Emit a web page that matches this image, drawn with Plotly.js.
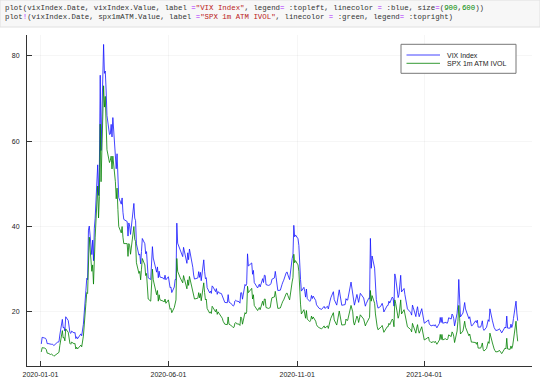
<!DOCTYPE html>
<html>
<head>
<meta charset="utf-8">
<script src="https://cdn.plot.ly/plotly-3.0.1.min.js"></script>
<style>html,body{margin:0;padding:0;background:#fff;}#chart{width:540px;height:382px;}</style>
</head>
<body>
<div id="chart"></div>
<script>
const dates = [
"2020-01-02","2020-01-03","2020-01-06","2020-01-07","2020-01-08","2020-01-09","2020-01-10","2020-01-13","2020-01-14","2020-01-15","2020-01-16","2020-01-17","2020-01-21","2020-01-22","2020-01-23","2020-01-24","2020-01-27","2020-01-28","2020-01-29","2020-01-30","2020-01-31",
"2020-02-03","2020-02-04","2020-02-05","2020-02-06","2020-02-07","2020-02-10","2020-02-11","2020-02-12","2020-02-13","2020-02-14","2020-02-18","2020-02-19","2020-02-20","2020-02-21","2020-02-24","2020-02-25","2020-02-26","2020-02-27","2020-02-28",
"2020-03-02","2020-03-03","2020-03-04","2020-03-05","2020-03-06","2020-03-09","2020-03-10","2020-03-11","2020-03-12","2020-03-13","2020-03-16","2020-03-17","2020-03-18","2020-03-19","2020-03-20","2020-03-23","2020-03-24","2020-03-25","2020-03-26","2020-03-27","2020-03-30","2020-03-31",
"2020-04-01","2020-04-02","2020-04-03","2020-04-06","2020-04-07","2020-04-08","2020-04-09","2020-04-13","2020-04-14","2020-04-15","2020-04-16","2020-04-17","2020-04-20","2020-04-21","2020-04-22","2020-04-23","2020-04-24","2020-04-27","2020-04-28","2020-04-29","2020-04-30",
"2020-05-01","2020-05-04","2020-05-05","2020-05-06","2020-05-07","2020-05-08","2020-05-11","2020-05-12","2020-05-13","2020-05-14","2020-05-15","2020-05-18","2020-05-19","2020-05-20","2020-05-21","2020-05-22","2020-05-26","2020-05-27","2020-05-28","2020-05-29",
"2020-06-01","2020-06-02","2020-06-03","2020-06-04","2020-06-05","2020-06-08","2020-06-09","2020-06-10","2020-06-11","2020-06-12","2020-06-15","2020-06-16","2020-06-17","2020-06-18","2020-06-19","2020-06-22","2020-06-23","2020-06-24","2020-06-25","2020-06-26","2020-06-29","2020-06-30",
"2020-07-01","2020-07-02","2020-07-06","2020-07-07","2020-07-08","2020-07-09","2020-07-10","2020-07-13","2020-07-14","2020-07-15","2020-07-16","2020-07-17","2020-07-20","2020-07-21","2020-07-22","2020-07-23","2020-07-24","2020-07-27","2020-07-28","2020-07-29","2020-07-30","2020-07-31",
"2020-08-03","2020-08-04","2020-08-05","2020-08-06","2020-08-07","2020-08-10","2020-08-11","2020-08-12","2020-08-13","2020-08-14","2020-08-17","2020-08-18","2020-08-19","2020-08-20","2020-08-21","2020-08-24","2020-08-25","2020-08-26","2020-08-27","2020-08-28","2020-08-31",
"2020-09-01","2020-09-02","2020-09-03","2020-09-04","2020-09-08","2020-09-09","2020-09-10","2020-09-11","2020-09-14","2020-09-15","2020-09-16","2020-09-17","2020-09-18","2020-09-21","2020-09-22","2020-09-23","2020-09-24","2020-09-25","2020-09-28","2020-09-29","2020-09-30",
"2020-10-01","2020-10-02","2020-10-05","2020-10-06","2020-10-07","2020-10-08","2020-10-09","2020-10-12","2020-10-13","2020-10-14","2020-10-15","2020-10-16","2020-10-19","2020-10-20","2020-10-21","2020-10-22","2020-10-23","2020-10-26","2020-10-27","2020-10-28","2020-10-29","2020-10-30",
"2020-11-02","2020-11-03","2020-11-04","2020-11-05","2020-11-06","2020-11-09","2020-11-10","2020-11-11","2020-11-12","2020-11-13","2020-11-16","2020-11-17","2020-11-18","2020-11-19","2020-11-20","2020-11-23","2020-11-24","2020-11-25","2020-11-27","2020-11-30",
"2020-12-01","2020-12-02","2020-12-03","2020-12-04","2020-12-07","2020-12-08","2020-12-09","2020-12-10","2020-12-11","2020-12-14","2020-12-15","2020-12-16","2020-12-17","2020-12-18","2020-12-21","2020-12-22","2020-12-23","2020-12-24","2020-12-28","2020-12-29","2020-12-30","2020-12-31",
"2021-01-04","2021-01-05","2021-01-06","2021-01-07","2021-01-08","2021-01-11","2021-01-12","2021-01-13","2021-01-14","2021-01-15","2021-01-19","2021-01-20","2021-01-21","2021-01-22","2021-01-25","2021-01-26","2021-01-27","2021-01-28","2021-01-29",
"2021-02-01","2021-02-02","2021-02-03","2021-02-04","2021-02-05","2021-02-08","2021-02-09","2021-02-10","2021-02-11","2021-02-12","2021-02-16","2021-02-17","2021-02-18","2021-02-19","2021-02-22","2021-02-23","2021-02-24","2021-02-25","2021-02-26",
"2021-03-01","2021-03-02","2021-03-03","2021-03-04","2021-03-05","2021-03-08","2021-03-09","2021-03-10","2021-03-11","2021-03-12","2021-03-15","2021-03-16","2021-03-17","2021-03-18","2021-03-19","2021-03-22","2021-03-23","2021-03-24","2021-03-25","2021-03-26","2021-03-29","2021-03-30","2021-03-31",
"2021-04-01","2021-04-05","2021-04-06","2021-04-07","2021-04-08","2021-04-09","2021-04-12","2021-04-13","2021-04-14","2021-04-15","2021-04-16","2021-04-19","2021-04-20","2021-04-21","2021-04-22","2021-04-23","2021-04-26","2021-04-27","2021-04-28","2021-04-29","2021-04-30",
"2021-05-03","2021-05-04","2021-05-05","2021-05-06","2021-05-07","2021-05-10","2021-05-11","2021-05-12","2021-05-13","2021-05-14","2021-05-17","2021-05-18","2021-05-19","2021-05-20","2021-05-21","2021-05-24","2021-05-25","2021-05-26","2021-05-27","2021-05-28",
"2021-06-01","2021-06-02","2021-06-03","2021-06-04","2021-06-07","2021-06-08","2021-06-09","2021-06-10","2021-06-11","2021-06-14","2021-06-15","2021-06-16","2021-06-17","2021-06-18","2021-06-21","2021-06-22","2021-06-23","2021-06-24","2021-06-25","2021-06-28","2021-06-29","2021-06-30",
"2021-07-01","2021-07-02","2021-07-06","2021-07-07","2021-07-08","2021-07-09","2021-07-12","2021-07-13","2021-07-14","2021-07-15","2021-07-16","2021-07-19","2021-07-20","2021-07-21"
];

const vixValue = [
12.47,14.02,13.85,13.79,13.45,12.54,12.56,12.32,12.39,12.42,12.32,12.10,12.85,12.91,12.98,14.56,18.23,16.28,16.39,15.49,18.84,
17.97,16.05,15.15,14.96,15.47,15.04,15.18,13.74,14.15,13.68,14.83,14.38,15.56,17.08,25.03,27.85,27.56,39.16,40.11,
33.42,36.82,31.99,39.62,41.94,54.46,47.30,53.90,75.47,57.83,82.69,75.91,76.45,72.00,66.04,61.59,61.67,63.95,61.00,65.54,57.08,53.54,
57.06,50.91,46.80,45.24,46.70,43.35,41.67,41.17,37.76,40.84,40.11,38.15,43.83,45.41,41.98,41.38,35.93,33.29,33.57,31.23,34.15,
37.19,35.97,33.61,34.12,31.44,27.98,27.57,33.04,35.28,32.61,31.89,29.30,30.53,27.99,29.53,28.16,27.91,27.62,28.59,27.51,
28.23,26.84,25.66,25.81,24.52,25.81,27.57,27.57,40.79,36.09,34.40,33.67,33.47,32.94,35.12,31.77,31.37,33.84,32.22,34.73,31.78,30.43,
28.62,27.68,27.94,29.43,28.08,29.26,27.29,32.19,29.52,27.76,28.00,25.68,24.46,24.84,24.32,26.08,25.84,24.74,25.44,24.10,24.76,24.46,
24.28,23.76,22.99,22.65,22.21,22.13,24.03,22.28,22.13,22.05,21.35,21.51,22.54,22.72,22.54,22.37,22.03,24.47,24.47,22.96,26.41,
26.12,26.57,33.60,30.75,31.46,28.81,29.71,26.87,25.85,25.59,26.04,26.46,25.83,27.78,26.86,28.58,28.51,26.38,26.19,26.27,26.37,
26.70,27.63,27.96,29.48,28.06,26.36,25.00,25.07,26.07,26.40,26.97,27.41,29.18,29.35,28.65,28.11,27.55,32.46,33.35,40.28,37.59,38.02,
37.13,35.55,29.57,27.58,24.86,25.75,24.80,23.45,25.35,23.10,22.45,22.71,23.84,23.11,23.70,22.66,21.64,21.25,20.84,20.57,
20.77,21.17,21.28,20.79,21.30,20.68,22.27,22.52,23.31,24.72,22.89,22.50,21.93,21.57,25.16,24.23,23.31,21.53,21.70,23.08,22.77,22.75,
26.97,25.34,25.07,22.37,21.56,24.08,23.33,22.21,23.25,24.34,23.24,21.58,21.32,21.91,23.19,23.02,37.21,30.21,33.09,
30.24,25.56,22.91,21.77,20.87,21.24,21.63,21.99,21.25,19.97,21.46,21.50,22.49,22.05,23.45,23.11,21.34,28.89,27.95,
23.35,24.10,26.67,28.57,24.66,25.47,24.03,22.56,21.91,20.69,20.03,19.79,19.23,21.58,20.95,18.88,20.30,21.20,19.81,18.86,20.74,19.61,19.40,
17.33,17.91,18.12,17.16,16.95,16.69,16.91,16.65,16.99,16.57,16.25,17.30,18.68,17.50,18.71,17.33,17.64,17.56,17.28,17.61,18.61,
18.31,19.48,19.15,18.39,16.69,19.66,21.84,27.59,23.13,18.81,19.72,21.34,22.18,20.67,20.15,18.40,18.84,17.36,16.74,16.76,
17.90,17.48,18.04,16.42,16.42,17.07,17.89,16.10,15.65,16.39,17.02,18.15,17.75,20.70,17.89,16.66,16.32,15.97,15.62,15.76,16.02,15.83,
15.48,15.07,16.44,16.20,19.00,16.18,16.17,17.12,16.33,17.01,18.45,22.50,19.73,17.91
];

const spxAtmValue = [
10.6,11.6,11.5,11.4,11.1,10.3,10.3,10.0,10.1,10.0,9.8,9.6,10.3,10.4,10.5,12.1,15.6,13.9,14.0,13.2,16.0,
15.2,13.5,12.6,12.4,12.9,12.5,12.6,11.3,11.7,11.3,12.2,11.8,12.9,14.3,22.0,24.5,24.3,35.5,37.5,
29.5,31.0,26.5,34.0,37.5,49.5,42.0,47.0,64.0,50.5,73.0,68.0,70.5,64.0,58.0,55.0,55.5,56.5,53.5,56.5,50.5,46.5,
49.0,44.0,40.0,38.5,40.0,37.5,36.0,36.0,33.0,36.0,35.5,33.5,38.5,40.0,37.0,36.5,31.5,29.0,29.5,27.5,30.0,
32.5,31.0,28.5,29.0,26.5,23.0,22.5,27.5,30.0,27.5,26.5,24.0,25.0,22.5,24.0,22.8,22.5,22.3,23.0,22.0,
22.8,21.5,20.6,20.8,19.8,21.0,22.5,22.8,32.5,29.5,28.0,27.5,27.3,26.8,28.5,25.8,25.4,27.5,26.2,28.3,25.8,24.8,
23.8,23.0,23.2,24.5,23.3,24.3,22.6,26.8,24.5,22.8,23.0,20.8,19.7,20.0,19.6,21.3,21.0,20.0,20.6,19.4,20.0,19.7,
19.0,18.5,17.8,17.5,17.1,17.0,18.8,17.1,17.0,16.9,16.3,16.4,17.3,17.5,17.2,17.1,16.8,18.8,18.5,17.1,19.8,
19.5,20.0,26.0,24.5,25.5,23.0,24.0,21.5,20.5,20.3,20.7,21.0,20.5,22.5,21.5,23.0,23.0,21.0,20.8,21.0,21.0,
22.3,23.3,23.5,24.8,23.5,22.0,20.8,20.9,21.7,22.0,22.5,22.8,24.3,24.4,23.8,23.3,22.8,27.0,28.0,33.5,31.5,32.0,
31.0,29.5,23.5,21.8,19.5,20.5,19.5,18.5,20.3,18.3,17.7,18.0,19.0,18.3,18.8,17.8,17.0,16.6,16.3,16.0,
16.2,16.6,16.7,16.2,16.7,16.1,17.6,17.8,18.5,19.8,18.1,17.8,17.2,16.9,20.2,19.3,18.5,16.9,17.0,18.3,18.0,18.0,
21.5,20.3,20.0,17.6,16.9,19.0,18.5,17.5,18.4,19.3,18.3,16.9,16.7,17.2,18.5,18.7,25.0,22.5,23.8,
22.0,19.5,17.5,16.6,15.8,16.2,16.5,16.8,16.2,15.2,16.5,16.5,17.3,17.0,18.3,18.0,16.5,22.8,22.0,
18.5,19.2,21.3,22.8,19.5,20.5,19.5,18.2,17.6,16.5,16.0,15.8,15.3,17.3,16.7,15.0,16.2,17.0,15.7,15.0,16.5,15.5,15.3,
13.4,13.9,14.1,13.2,13.0,12.8,13.0,12.8,13.1,12.7,12.4,13.4,14.7,13.5,14.7,13.4,13.7,13.6,13.4,13.7,14.6,
14.2,15.3,15.0,14.3,12.8,15.5,17.8,21.5,18.5,14.8,15.5,17.0,17.8,16.4,16.0,14.4,14.8,13.5,12.9,12.9,
12.8,12.4,12.9,11.5,11.5,12.0,12.7,11.2,10.8,11.4,12.0,13.0,12.6,15.0,12.7,11.6,11.3,10.9,10.6,10.7,11.0,10.8,
10.5,10.2,11.5,11.3,13.8,11.3,11.2,12.0,11.4,12.0,13.4,17.8,15.0,13.1
];

const seriesNames = ["VIX Index", "SPX 1m ATM IVOL"];
const xTickVals = ["2020-01-01", "2020-06-01", "2020-11-01", "2021-04-01"];
const xTickText = ["2020-01-01", "2020-06-01", "2020-11-01", "2021-04-01"];
const yTickVals = [20, 40, 60, 80];

if (dates.length !== vixValue.length || dates.length !== spxAtmValue.length) {
  throw new Error("length mismatch " + dates.length + " " + vixValue.length + " " + spxAtmValue.length);
}

const codeLine1 = 'plot(vixIndex.Date, vixIndex.Value, label <span style="color:#aa22ff">=</span><span style="color:#ba2121">"VIX Index"</span>, legend<span style="color:#aa22ff">=</span> :topleft, linecolor <span style="color:#aa22ff">=</span> :blue, size<span style="color:#aa22ff">=</span>(<span style="color:#008800">900</span>,<span style="color:#008800">600</span>))';
const codeLine2 = 'plot<span style="color:#aa22ff">!</span>(vixIndex.Date, spx1mATM.Value, label <span style="color:#aa22ff">=</span><span style="color:#ba2121">"SPX 1m ATM IVOL"</span>, linecolor <span style="color:#aa22ff">=</span> :green, legend<span style="color:#aa22ff">=</span> :topright)';

const traces = [
  {x: dates, y: vixValue, type: "scatter", mode: "lines", name: seriesNames[0],
   line: {color: "rgb(20,20,255)", width: 0.8}, showlegend: false},
  {x: dates, y: spxAtmValue, type: "scatter", mode: "lines", name: seriesNames[1],
   line: {color: "rgb(0,128,0)", width: 0.8}, showlegend: false}
];

// pixel helpers for paper coordinates (plot area 27..532 x, 35..366 y)
const L = 27, R = 532, T = 35, B = 366;
const px = v => (v - L) / (R - L);
const py = v => (B - v) / (B - T);

const layout = {
  width: 540, height: 382,
  margin: {l: L, r: 540 - R, t: T, b: 382 - B, pad: 0},
  paper_bgcolor: "#ffffff", plot_bgcolor: "#ffffff",
  font: {family: "Liberation Sans, Arial, sans-serif", size: 7, color: "#222"},
  xaxis: {
    type: "date", range: ["2019-12-16", "2021-08-07"],
    tickmode: "array", tickvals: xTickVals, ticktext: xTickText,
    ticks: "inside", ticklen: 5, tickcolor: "#333", tickwidth: 1,
    showline: true, linecolor: "#333", linewidth: 1, mirror: false,
    showgrid: true, gridcolor: "rgba(0,0,0,0.07)", gridwidth: 0.5,
    zeroline: false, tickfont: {size: 7, color: "#222"}, automargin: false,
    ticklabelstandoff: 2
  },
  yaxis: {
    range: [7.3, 84.9],
    tickmode: "array", tickvals: yTickVals,
    ticks: "inside", ticklen: 5, tickcolor: "#333", tickwidth: 1,
    showline: true, linecolor: "#333", linewidth: 1, mirror: false,
    showgrid: true, gridcolor: "rgba(0,0,0,0.07)", gridwidth: 0.5,
    zeroline: false, tickfont: {size: 7, color: "#222"}, automargin: false,
    ticklabelstandoff: 5
  },
  shapes: [
    {type: "rect", xref: "paper", yref: "paper", x0: px(0), x1: px(540), y0: py(27), y1: py(0),
     fillcolor: "rgb(247,247,247)", line: {color: "rgb(224,224,224)", width: 1}, layer: "below"},
    {type: "rect", xref: "paper", yref: "paper", x0: px(401), x1: px(516), y0: py(73.3), y1: py(44.3),
     fillcolor: "#ffffff", line: {color: "#777", width: 1}},
    {type: "line", xref: "paper", yref: "paper", x0: px(406.5), x1: px(440), y0: py(55), y1: py(55),
     line: {color: "rgb(20,20,255)", width: 0.8}},
    {type: "line", xref: "paper", yref: "paper", x0: px(406.5), x1: px(440), y0: py(63.3), y1: py(63.3),
     line: {color: "rgb(0,128,0)", width: 0.8}}
  ],
  annotations: [
    {xref: "paper", yref: "paper", x: px(2.5), y: py(7.8), xanchor: "left", yanchor: "middle",
     text: codeLine1, showarrow: false, font: {family: "Liberation Mono, DejaVu Sans Mono, monospace", size: 7.4, color: "#333"}},
    {xref: "paper", yref: "paper", x: px(2.5), y: py(17), xanchor: "left", yanchor: "middle",
     text: codeLine2, showarrow: false, font: {family: "Liberation Mono, DejaVu Sans Mono, monospace", size: 7.4, color: "#333"}},
    {xref: "paper", yref: "paper", x: px(445), y: py(55), xanchor: "left", yanchor: "middle",
     text: seriesNames[0], showarrow: false, font: {size: 7, color: "#222"}},
    {xref: "paper", yref: "paper", x: px(445), y: py(63.3), xanchor: "left", yanchor: "middle",
     text: seriesNames[1], showarrow: false, font: {size: 7, color: "#222"}}
  ]
};

Plotly.newPlot("chart", traces, layout, {displayModeBar: false, staticPlot: true});
</script>
</body>
</html>
